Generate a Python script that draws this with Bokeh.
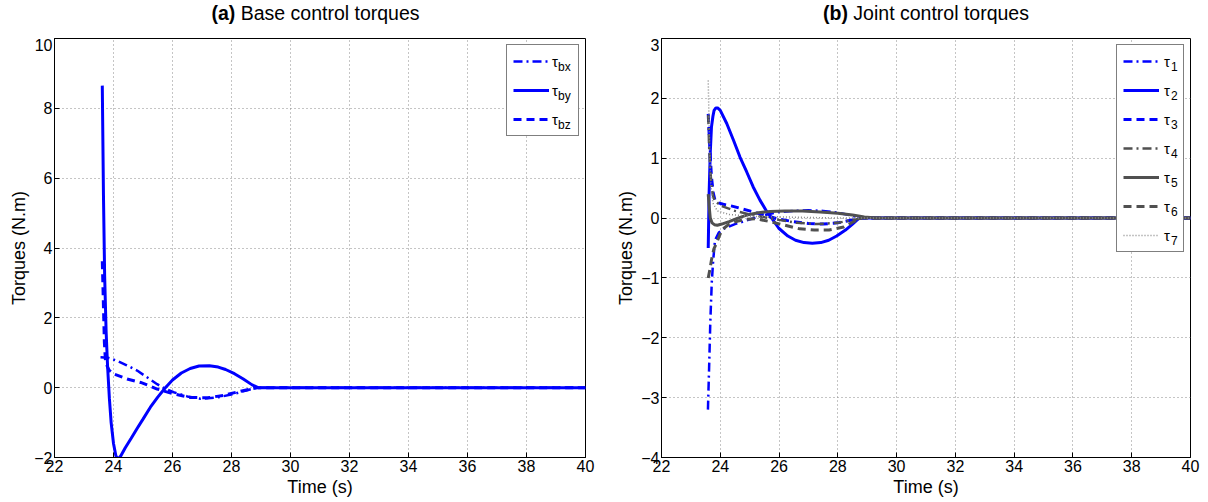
from bokeh.plotting import figure
from bokeh.layouts import row, column
from bokeh.models import FixedTicker, Legend, LegendItem, Range1d, Div
from bokeh.core.properties import value
from bokeh.embed import file_html
from bokeh.resources import INLINE

# ---------------- data: (a) base control torques ----------------
t_by = [23.62, 23.66, 23.70, 23.75, 23.80, 23.86, 23.92, 24.00, 24.08, 24.15, 24.25, 24.40,
        24.60, 24.80, 25.00, 25.25, 25.50, 25.75, 26.00, 26.30, 26.60, 26.90, 27.25, 27.55,
        27.80, 28.10, 28.40, 28.70, 28.90, 40.0]
tau_by = [8.65, 5.5, 3.2, 1.6, 0.6, -0.3, -1.0, -1.6, -1.95, -2.05, -1.95, -1.72,
          -1.45, -1.17, -0.90, -0.56, -0.27, -0.01, 0.22, 0.42, 0.55, 0.62, 0.63, 0.59,
          0.52, 0.40, 0.25, 0.08, 0.0, 0.0]

t_bx = [23.56, 23.80, 24.12, 24.45, 24.80, 25.15, 25.48, 25.75, 26.04, 26.50, 26.95, 27.52,
        28.08, 28.50, 28.87, 40.0]
tau_bx = [0.87, 0.86, 0.77, 0.64, 0.49, 0.29, 0.10, -0.03, -0.13, -0.25, -0.32, -0.28,
          -0.18, -0.08, 0.0, 0.0]

t_bz = [23.62, 23.66, 23.69, 23.73, 23.85, 24.01, 24.46, 24.92, 25.20, 25.48, 26.04, 26.61,
        27.18, 27.74, 28.31, 28.87, 40.0]
tau_bz = [3.62, 2.3, 1.3, 0.72, 0.50, 0.39, 0.25, 0.15, 0.06, -0.04, -0.18, -0.28,
          -0.29, -0.22, -0.10, 0.0, 0.0]

# ---------------- data: (b) joint control torques ----------------
t_1 = [23.58, 23.62, 23.66, 23.71, 23.76, 23.82, 23.95, 24.15, 24.5, 24.9, 25.4, 26.0,
       26.5, 27.0, 27.5, 28.0, 28.4, 28.8, 40.0]
tau_1 = [-3.2, -2.5, -1.75, -1.08, -0.7, -0.37, -0.24, -0.17, -0.1, -0.04, 0.04, 0.10,
         0.12, 0.13, 0.12, 0.09, 0.05, 0.0, 0.0]

t_2 = [23.59, 23.60, 23.62, 23.66, 23.70, 23.75, 23.79, 23.85, 23.91, 24.00, 24.22, 24.45,
       24.67, 24.90, 25.12, 25.35, 25.58, 25.75, 25.99, 26.30, 26.56, 26.85, 27.13, 27.42,
       27.69, 27.96, 28.26, 28.50, 28.72, 40.0]
tau_2 = [-0.5, -0.2, 0.41, 1.1, 1.52, 1.7, 1.8, 1.84, 1.84, 1.8, 1.58, 1.3,
         1.02, 0.77, 0.52, 0.30, 0.11, 0.0, -0.17, -0.30, -0.37, -0.41, -0.42, -0.41,
         -0.37, -0.30, -0.20, -0.10, 0.0, 0.0]

t_3 = [23.59, 23.64, 23.70, 23.76, 23.82, 23.90, 24.10, 24.40, 24.70, 25.0, 25.5, 26.0,
       26.5, 27.0, 27.5, 28.0, 28.4, 28.8, 40.0]
tau_3 = [1.74, 1.2, 0.69, 0.42, 0.30, 0.26, 0.23, 0.20, 0.16, 0.12, 0.05, -0.02,
         -0.06, -0.09, -0.10, -0.08, -0.04, 0.0, 0.0]

t_4 = [23.59, 23.62, 23.66, 23.71, 23.76, 23.85, 24.05, 24.5, 25.1, 26.0, 26.6, 27.3,
       28.0, 28.5, 28.9, 40.0]
tau_4 = [1.72, 1.2, 0.8, 0.5, 0.35, 0.27, 0.20, 0.12, 0.05, -0.03, -0.08, -0.10,
         -0.08, -0.03, 0.0, 0.0]

t_5 = [23.59, 23.62, 23.66, 23.72, 23.80, 23.90, 24.05, 24.30, 24.60, 24.90, 25.30, 25.70,
       26.20, 26.80, 27.40, 28.00, 28.50, 28.90, 29.30, 40.0]
tau_5 = [0.4, 0.2, 0.0, -0.08, -0.11, -0.12, -0.10, -0.06, 0.0, 0.05, 0.09, 0.11,
         0.12, 0.12, 0.10, 0.08, 0.05, 0.02, 0.0, 0.0]

t_6 = [23.59, 23.65, 23.70, 23.78, 23.87, 24.05, 24.30, 24.60, 24.90, 25.20, 25.70, 26.20,
       26.70, 27.20, 27.70, 28.20, 28.50, 28.80, 40.0]
tau_6 = [-1.0, -0.85, -0.7, -0.52, -0.42, -0.2, -0.1, -0.05, -0.02, -0.01, -0.06, -0.12,
         -0.18, -0.20, -0.20, -0.15, -0.07, 0.0, 0.0]

t_7 = [23.59, 23.61, 23.64, 23.68, 23.75, 23.90, 24.30, 25.0, 26.0, 27.0, 28.0, 28.8, 40.0]
tau_7 = [2.3, 1.8, 1.1, 0.55, 0.25, 0.12, 0.06, 0.03, 0.02, 0.01, 0.0, 0.0, 0.0]

x_ticks = [22, 24, 26, 28, 30, 32, 34, 36, 38, 40]
x_tick_labels = ["22", "24", "26", "28", "30", "32", "34", "36", "38", "40"]
ya_ticks = [-2, 0, 2, 4, 6, 8, 10]
ya_tick_labels = ["\u22122", "0", "2", "4", "6", "8", "10"]
yb_ticks = [-4, -3, -2, -1, 0, 1, 2, 3]
yb_tick_labels = ["\u22124", "\u22123", "\u22122", "\u22121", "0", "1", "2", "3"]

legend_a_subs = ["bx", "by", "bz"]
legend_b_subs = ["1", "2", "3", "4", "5", "6", "7"]

title_a = ("(a)", "Base control torques")
title_b = ("(b)", "Joint control torques")

FONT = "Liberation Sans"
BLUE = "#0000FF"
GRAY = "#505050"


def make_fig(y_range, y_ticks, y_labels, left_border, right_border):
    p = figure(width=604, height=464, x_range=Range1d(22, 40), y_range=Range1d(*y_range),
               output_backend="svg", toolbar_location=None,
               min_border_left=left_border, min_border_right=right_border,
               min_border_top=0, min_border_bottom=45)
    p.outline_line_color = "black"
    p.outline_line_width = 1
    p.xaxis.ticker = FixedTicker(ticks=x_ticks)
    p.xaxis.major_label_overrides = dict(zip(x_ticks, x_tick_labels))
    p.yaxis.ticker = FixedTicker(ticks=y_ticks)
    p.yaxis.major_label_overrides = dict(zip(y_ticks, y_labels))
    for ax in (p.xaxis[0], p.yaxis[0]):
        ax.major_tick_in = 5
        ax.major_tick_out = 0
        ax.minor_tick_line_color = None
        ax.axis_line_color = "black"
        ax.major_tick_line_color = "black"
        ax.major_label_text_font = FONT
        ax.major_label_text_font_size = "16px"
        ax.major_label_text_color = "black"
        ax.axis_label_text_font = FONT
        ax.axis_label_text_font_size = "18px"
        ax.axis_label_text_font_style = "normal"
        ax.axis_label_text_color = "black"
        ax.major_label_standoff = 2
        ax.axis_label_standoff = 2
    p.xaxis.axis_label = "Time (s)"
    p.yaxis.axis_label = "Torques (N.m)"
    p.grid.grid_line_color = "#8a8a8a"
    p.grid.grid_line_dash = "1 3"
    p.grid.grid_line_width = 1
    return p


def make_title(parts, pad_left):
    return Div(text="<b>%s</b> %s" % parts, width=604, height=38, margin=(0, 0, 0, 0),
               styles={"font-family": FONT, "font-size": "19.5px", "color": "black",
                       "text-align": "center", "line-height": "20px",
                       "padding-top": "3px", "padding-left": "%dpx" % pad_left,
                       "box-sizing": "border-box", "width": "604px"})


def add_legend(p, renderers, subs, label_width, standoff, sub_loc):
    items = [LegendItem(label=value("\u03c4"), renderers=[r]) for r in renderers]
    leg = Legend(items=items, location="top_right", margin=6, padding=6, spacing=9,
                 label_height=20, glyph_height=20, glyph_width=36, label_standoff=standoff,
                 label_width=label_width, label_text_font=FONT, label_text_font_size="15px",
                 label_text_color="black",
                 border_line_color="black", border_line_width=1,
                 background_fill_color="white", background_fill_alpha=1)
    p.add_layout(leg)
    # subscripts: a second, frameless legend whose labels sit just right of each tau
    sub_items = [LegendItem(label=value(s), renderers=[r]) for s, r in zip(subs, renderers)]
    sub_leg = Legend(items=sub_items, location=sub_loc, margin=0, padding=0, spacing=9,
                     label_height=20, glyph_height=20, glyph_width=0, label_standoff=0,
                     label_width=10, label_text_font=FONT, label_text_font_size="12px",
                     label_text_color="black",
                     border_line_color=None, background_fill_alpha=0)
    p.add_layout(sub_leg)


# ---------------- (a) ----------------
pa = make_fig((-2, 10), ya_ticks, ya_tick_labels, 54, 19)
ra1 = pa.line(t_bx, tau_bx, line_color=BLUE, line_width=2.5, line_dash="9 4 2 4")
ra2 = pa.line(t_by, tau_by, line_color=BLUE, line_width=3)
ra3 = pa.line(t_bz, tau_bz, line_color=BLUE, line_width=3, line_dash="8 5")
add_legend(pa, [ra1, ra2, ra3], legend_a_subs, 20, 3, (504, 322))

# ---------------- (b) ----------------
pb = make_fig((-4, 3), yb_ticks, yb_tick_labels, 57, 18)
rb1 = pb.line(t_1, tau_1, line_color=BLUE, line_width=2.5, line_dash="9 4 2 4")
rb2 = pb.line(t_2, tau_2, line_color=BLUE, line_width=3)
rb3 = pb.line(t_3, tau_3, line_color=BLUE, line_width=3, line_dash="8 5")
rb4 = pb.line(t_4, tau_4, line_color=GRAY, line_width=2.5, line_dash="9 4 2 4")
rb5 = pb.line(t_5, tau_5, line_color=GRAY, line_width=3)
rb6 = pb.line(t_6, tau_6, line_color=GRAY, line_width=3, line_dash="8 5")
rb7 = pb.line(t_7, tau_7, line_color="#8a8a8a", line_width=1.5, line_dash="1 2")
add_legend(pb, [rb1, rb2, rb3, rb4, rb5, rb6, rb7], legend_b_subs, 13, 5, (510, 206))

layout = column(row(make_title(title_a, 27), make_title(title_b, 40)), row(pa, pb),
                spacing=0)
open("out.html", "w").write(file_html(layout, INLINE))
